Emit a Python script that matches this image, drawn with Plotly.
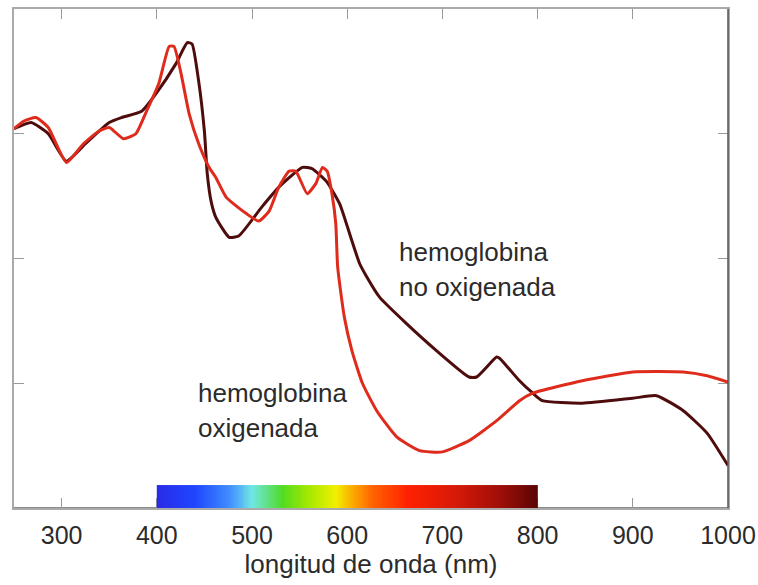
import plotly.graph_objects as go

# Absorption spectra of hemoglobin (arbitrary units) vs wavelength in nm
deoxy_nm = [250, 268, 286, 305, 325, 350, 363, 384, 399, 420, 432, 437, 444, 450,
            453, 457, 462, 476, 486, 510, 528, 553, 563, 578, 592, 605, 613, 620,
            634, 662, 694, 728, 736, 757, 760, 781, 795, 805, 847, 900, 925, 953,
            978, 1000]
deoxy_abs = [3.04, 3.09, 3.00, 2.78, 2.92, 3.09, 3.13, 3.18, 3.32, 3.56, 3.73, 3.72, 3.42, 3.02,
             2.68, 2.46, 2.33, 2.17, 2.18, 2.41, 2.57, 2.73, 2.72, 2.62, 2.44, 2.14, 1.96, 1.86,
             1.69, 1.48, 1.26, 1.05, 1.05, 1.21, 1.20, 1.02, 0.92, 0.86, 0.84, 0.88, 0.90, 0.78,
             0.60, 0.34]

oxy_nm = [250, 260, 273, 286, 305, 323, 339, 350, 365, 378, 388, 402, 413, 418,
          425, 434, 444, 455, 462, 473, 494, 507, 518, 528, 539, 546, 558, 567,
          574, 579, 584, 588, 590, 597, 605, 616, 631, 652, 676, 700, 728, 757,
          781, 795, 847, 900, 953, 978, 1000]
oxy_abs = [3.04, 3.10, 3.13, 3.05, 2.77, 2.92, 3.02, 3.05, 2.96, 3.00, 3.16, 3.40, 3.70, 3.70,
           3.50, 3.16, 2.92, 2.73, 2.65, 2.49, 2.36, 2.30, 2.38, 2.57, 2.70, 2.70, 2.52, 2.60,
           2.73, 2.70, 2.52, 2.28, 1.93, 1.53, 1.26, 1.00, 0.78, 0.57, 0.46, 0.45, 0.54, 0.70,
           0.86, 0.92, 1.02, 1.09, 1.09, 1.06, 1.01]

x_ticks = [300, 400, 500, 600, 700, 800, 900, 1000]
x_title = "longitud de onda (nm)"
label_deoxy = ["hemoglobina", "no oxigenada"]
label_oxy = ["hemoglobina", "oxigenada"]

# visible spectrum strip, 400-800 nm
spectrum_edges = list(range(400, 802, 2))
spectrum_centers = [e + 1 for e in spectrum_edges[:-1]]
spectrum_colors = [
    [0.00, "#2a2ae6"], [0.10, "#1f46ff"], [0.19, "#3f8cff"], [0.25, "#70e6e6"],
    [0.33, "#50dc20"], [0.40, "#a8e800"], [0.47, "#f0f000"], [0.52, "#ffa000"],
    [0.57, "#ff6000"], [0.66, "#ff2000"], [0.78, "#d81a08"], [0.90, "#a00e08"],
    [1.00, "#5a0505"],
]

DARK = "#4e0c0c"
RED = "#de2b1c"
TEXT = "#2b2b2b"
FONT = "Liberation Sans, Arial, sans-serif"

fig = go.Figure()

fig.add_trace(go.Heatmap(
    x=spectrum_edges, y=[0, 0.184], z=[spectrum_centers],
    colorscale=spectrum_colors, zmin=400, zmax=800,
    showscale=False, hoverinfo="skip",
))

fig.add_trace(go.Scatter(
    x=deoxy_nm, y=deoxy_abs, mode="lines",
    line=dict(color=DARK, width=3, shape="spline", smoothing=0.5),
    name="hemoglobina no oxigenada", showlegend=False,
))
fig.add_trace(go.Scatter(
    x=oxy_nm, y=oxy_abs, mode="lines",
    line=dict(color=RED, width=3, shape="spline", smoothing=0.5),
    name="hemoglobina oxigenada", showlegend=False,
))

def add_label(lines, x, ys):
    for txt, y in zip(lines, ys):
        fig.add_annotation(x=x, y=y, text=txt, showarrow=False,
                           xanchor="left", yanchor="middle",
                           font=dict(family=FONT, size=26, color=TEXT))

add_label(label_deoxy, 652, [2.05, 1.77])
add_label(label_oxy, 441, [0.92, 0.64])

# frame: light top/left, darker right/bottom
fig.add_shape(type="line", xref="paper", yref="paper", x0=1, x1=1, y0=0, y1=1,
              line=dict(color="#555555", width=1.5))
fig.add_shape(type="line", xref="paper", yref="paper", x0=0, x1=1, y0=0, y1=0,
              line=dict(color="#666666", width=1.5), layer="below")

fig.update_xaxes(
    range=[250, 1000], tickvals=x_ticks, ticktext=[str(v) for v in x_ticks],
    ticks="inside", ticklen=10, tickcolor="#999999", tickwidth=1,
    showline=True, linecolor="#aaaaaa", linewidth=1.5, mirror="ticks",
    showgrid=False, zeroline=False, layer="below traces", automargin=False,
    tickfont=dict(family=FONT, size=25, color=TEXT), ticklabelstandoff=4,
    title=dict(text=x_title, font=dict(family=FONT, size=26, color=TEXT), standoff=6),
)
fig.update_yaxes(
    range=[0, 4], tickvals=[1, 2, 3], showticklabels=False,
    ticks="inside", ticklen=10, tickcolor="#999999", tickwidth=1,
    showline=True, linecolor="#aaaaaa", linewidth=1.5, mirror="ticks",
    showgrid=False, zeroline=False, layer="below traces", automargin=False,
)

fig.update_layout(
    width=758, height=585,
    margin=dict(l=14, r=30, t=9, b=77),
    plot_bgcolor="white", paper_bgcolor="white",
    showlegend=False,
)

fig.write_html("out.html")
